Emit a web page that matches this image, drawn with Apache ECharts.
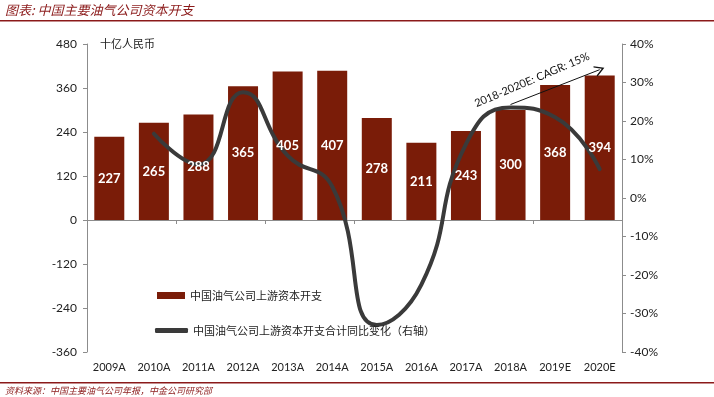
<!DOCTYPE html>
<html>
<head>
<meta charset="utf-8">
<script src="https://cdn.jsdelivr.net/npm/echarts@6/dist/echarts.min.js"></script>
<style>
	html, body { margin: 0; padding: 0; background: #fff; }
	#chart { width: 714px; height: 397px; }
</style>
</head>
<body>
<div id="chart"></div>
<script>
const years = ['2009A', '2010A', '2011A', '2012A', '2013A', '2014A', '2015A', '2016A', '2017A', '2018A', '2019E', '2020E']
const capex = [227, 265, 288, 365, 405, 407, 278, 211, 243, 300, 368, 394]
// yoy change, %
const yoy = [null, 16.7, 8.7, 27.5, 11, 3, -33, -22.5, 14, 23.5, 21, 7.5]
const cagrArrow = [['2018A', 315], ['2020E', 410]]

const darkRed = '#7a1c08'
const lineGrey = '#3a3a3a'
const axisGrey = '#8c8c8c'
const cjk = '"Noto Sans CJK SC", sans-serif'
const num = 'Lato, "Open Sans", sans-serif'
const barName = '中国油气公司上游资本开支'
const lineName = '中国油气公司上游资本开支合计同比变化（右轴）'

const legendText = { fontFamily: cjk, fontSize: 11, color: '#222' }

const chart = echarts.init(document.getElementById('chart'))
const option = {
	animation: false,
	textStyle: { fontFamily: num },
	grid: { left: 87, right: 92, top: 44, bottom: 45 },
	legend: [
		{
			left: 152,
			top: 285,
			itemWidth: 28,
			itemHeight: 7,
			textStyle: legendText,
			data: [{ name: barName, icon: 'rect', itemStyle: { color: darkRed } }],
		},
		{
			left: 150,
			top: 320,
			itemWidth: 33,
			itemHeight: 5,
			textStyle: legendText,
			data: [{ name: lineName, icon: 'roundRect', itemStyle: { color: lineGrey } }],
		},
	],
	xAxis: [
		{
			type: 'category',
			data: years,
			axisLine: { onZero: true, lineStyle: { color: axisGrey } },
			axisTick: { show: true, length: 4, lineStyle: { color: axisGrey } },
			axisLabel: { show: false },
		},
		{
			type: 'category',
			data: years,
			position: 'bottom',
			axisLine: { show: false },
			axisTick: { show: false },
			axisLabel: { color: '#222', fontSize: 11, margin: 10 },
		},
	],
	yAxis: [
		{
			type: 'value',
			min: -360,
			max: 480,
			interval: 120,
			splitLine: { show: false },
			axisLine: { show: true, lineStyle: { color: axisGrey } },
			axisTick: { show: true, length: 4, lineStyle: { color: axisGrey } },
			axisLabel: { color: '#222', fontSize: 12, margin: 10 },
		},
		{
			type: 'value',
			min: -40,
			max: 40,
			interval: 10,
			position: 'right',
			splitLine: { show: false },
			axisLine: { show: true, lineStyle: { color: axisGrey } },
			axisTick: { show: true, length: 4, lineStyle: { color: axisGrey } },
			axisLabel: { color: '#222', fontSize: 12, margin: 8, formatter: '{value}%' },
		},
	],
	series: [
		{
			name: barName,
			type: 'bar',
			data: capex,
			barWidth: 30,
			itemStyle: { color: darkRed },
			markLine: {
				silent: true,
				symbol: ['none', 'path://M6,0 L12,11 L10.6,11.6 L6,3.2 L1.4,11.6 L0,11 Z'],
				symbolSize: [11, 10],
				itemStyle: { color: '#111' },
				lineStyle: { color: '#111', width: 1, type: 'solid' },
				label: { show: false },
				data: [[
					{ coord: cagrArrow[0] },
					{ coord: cagrArrow[1] },
				]],
			},
		},
		{
			name: lineName,
			type: 'line',
			yAxisIndex: 1,
			data: yoy,
			smooth: 0.5,
			symbol: 'none',
			z: 3,
			lineStyle: { color: lineGrey, width: 4, cap: 'round' },
			itemStyle: { color: lineGrey },
		},
		{
			// value labels, kept above the line
			name: 'labels',
			type: 'bar',
			data: capex,
			barWidth: 30,
			barGap: '-100%',
			silent: true,
			z: 4,
			itemStyle: { color: 'rgba(0,0,0,0)' },
			label: {
				show: true,
				position: 'inside',
				color: '#fff',
				fontWeight: 'bold',
				fontSize: 13,
				fontFamily: num,
			},
		},
	],
	graphic: [
		{
			type: 'text',
			left: 5,
			top: 4,
			style: { text: '图表: 中国主要油气公司资本开支', fontFamily: cjk, fontSize: 13, fontStyle: 'italic', fill: '#8b1a1a' },
		},
		{
			type: 'rect',
			shape: { x: 0, y: 20, width: 714, height: 1.5 },
			style: { fill: '#8b1a1a' },
		},
		{
			type: 'text',
			left: 100,
			top: 38,
			style: { text: '十亿人民币', fontFamily: cjk, fontSize: 11, fill: '#222' },
		},
		{
			type: 'text',
			x: 532,
			y: 80,
			rotation: 0.4,
			style: { text: '2018-2020E: CAGR: 15%', fontFamily: num, fontSize: 11, fill: '#111', align: 'center', verticalAlign: 'middle' },
		},
		{
			type: 'rect',
			shape: { x: 0, y: 382, width: 714, height: 1.5 },
			style: { fill: '#8b1a1a' },
		},
		{
			type: 'text',
			left: 5,
			top: 386,
			style: { text: '资料来源：中国主要油气公司年报，中金公司研究部', fontFamily: cjk, fontSize: 9, fontStyle: 'italic', fill: '#8b1a1a' },
		},
	],
}
chart.setOption(option)
</script>
</body>
</html>
